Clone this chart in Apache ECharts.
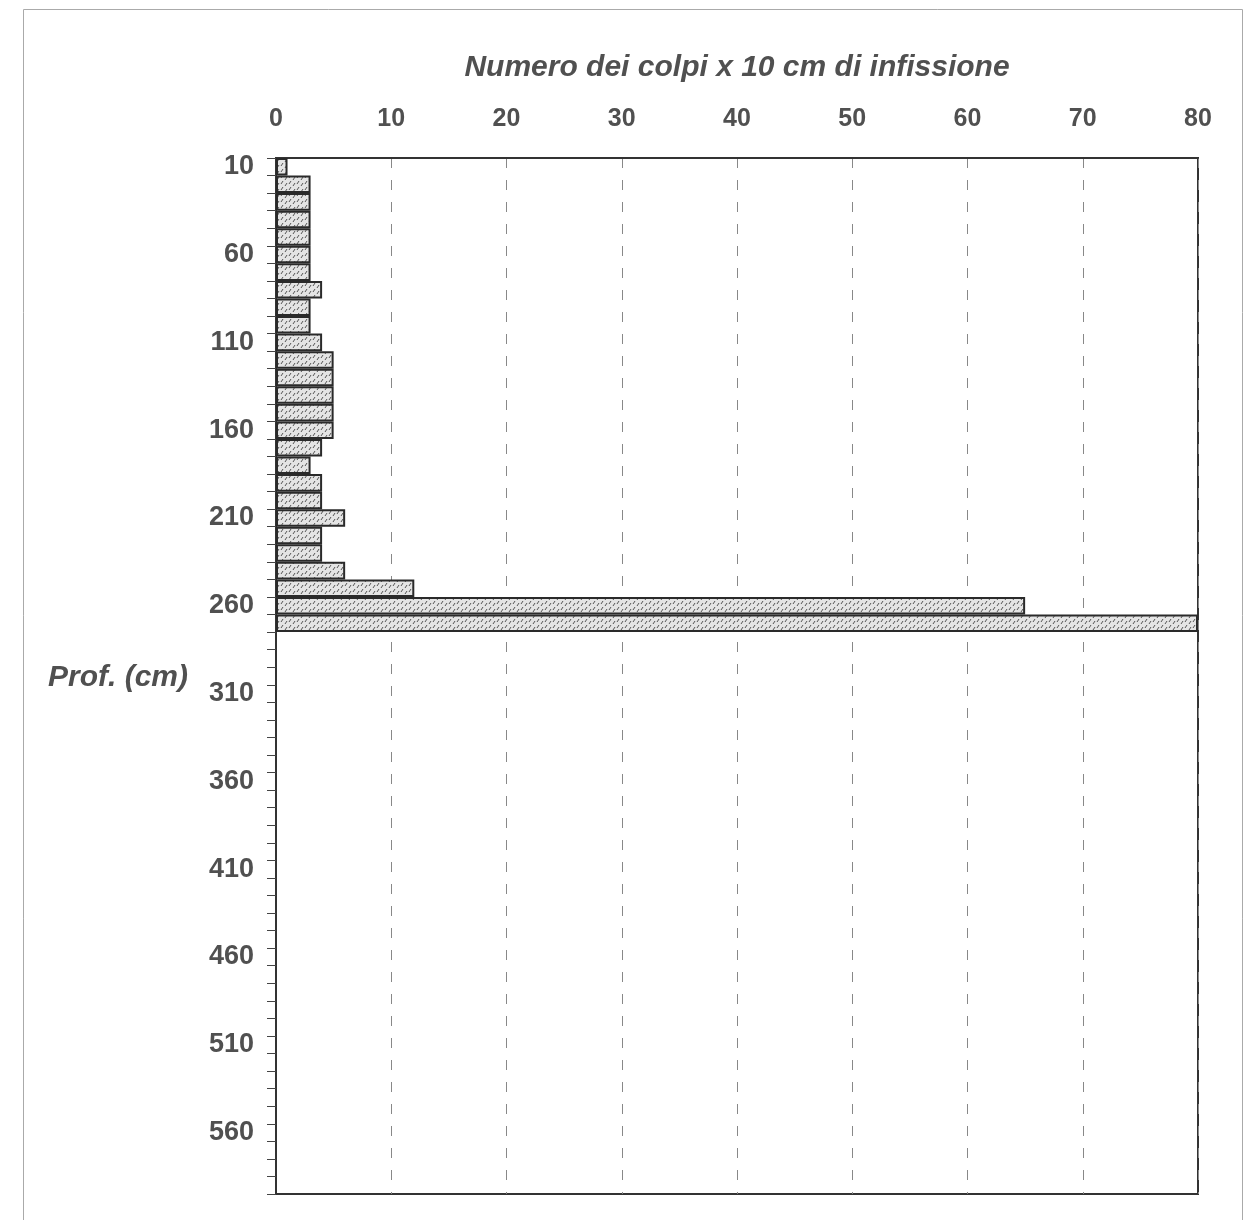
<!DOCTYPE html>
<html>
<head>
<meta charset="utf-8">
<script src="https://cdn.jsdelivr.net/npm/echarts@6/dist/echarts.min.js"></script>
<style>
html,body{margin:0;padding:0;background:#fff;}
#chart{width:1254px;height:1220px;}
</style>
</head>
<body>
<div id="chart"></div>
<script>
// Depth categories (cm)
const depths = [];
for (let d = 10; d <= 590; d += 10) depths.push(String(d));
// Number of blows per 10 cm, 10 cm .. 270 cm
const blows = [1, 3, 3, 3, 3, 3, 3, 4, 3, 3, 4, 5, 5, 5, 5, 5, 4, 3, 4, 4, 6, 4, 4, 6, 12, 65, 80];
const xTicks = [0, 10, 20, 30, 40, 50, 60, 70, 80];
const xTitle = 'Numero dei colpi x 10 cm di infissione';
const yTitle = 'Prof. (cm)';

// hatch pattern for bars
const pc = document.createElement('canvas');
pc.width = 8; pc.height = 6;
const ctx = pc.getContext('2d');
ctx.fillStyle = '#e4e4e4';
ctx.fillRect(0, 0, 8, 6);
ctx.strokeStyle = '#555';
ctx.lineWidth = 1;
ctx.beginPath();
ctx.moveTo(1, 4); ctx.lineTo(3, 1);
ctx.moveTo(5, 6); ctx.lineTo(7, 3);
ctx.stroke();

const chart = echarts.init(document.getElementById('chart'));
const textColor = '#505050';
chart.setOption({
  animation: false,
  backgroundColor: '#fff',
  grid: { left: 276, right: 56, top: 158, bottom: 26, show: true, borderColor: '#333', borderWidth: 2, containLabel: false },
  xAxis: {
    type: 'value', position: 'top', min: xTicks[0], max: xTicks[xTicks.length - 1], interval: 10,
    name: xTitle, nameLocation: 'middle', nameGap: 75,
    nameTextStyle: { fontFamily: 'Liberation Sans', fontSize: 30, fontStyle: 'italic', fontWeight: 'bold', color: textColor },
    axisLine: { show: true, lineStyle: { color: '#333', width: 2 } },
    axisTick: { show: false },
    axisLabel: { margin: 26, fontFamily: 'Liberation Sans', fontSize: 25, fontWeight: 'bold', color: textColor },
    splitLine: { show: true, lineStyle: { color: '#888', width: 1, type: [10, 12] } }
  },
  yAxis: {
    type: 'category', inverse: true, data: depths,
    axisLine: { show: true, lineStyle: { color: '#333', width: 2 } },
    axisTick: { show: true, interval: 0, length: 9, lineStyle: { color: '#444', width: 1 } },
    axisLabel: { interval: 4, margin: 22, fontFamily: 'Liberation Sans', fontSize: 27, fontWeight: 'bold', color: textColor },
    splitLine: { show: false }
  },
  series: [{
    type: 'bar', data: blows, barCategoryGap: '0%',
    itemStyle: { color: { image: pc, repeat: 'repeat' }, borderColor: '#2a2a2a', borderWidth: 2 }
  }],
  graphic: [
    { type: 'rect', left: 21, top: 7, shape: { width: 1219, height: 1260 }, style: { fill: 'none', stroke: '#aaa', lineWidth: 1 } },
    { type: 'text', left: 48, top: 663, style: { text: yTitle, fontFamily: 'Liberation Sans', fontSize: 30, fontStyle: 'italic', fontWeight: 'bold', fill: textColor } }
  ]
});
</script>
</body>
</html>
